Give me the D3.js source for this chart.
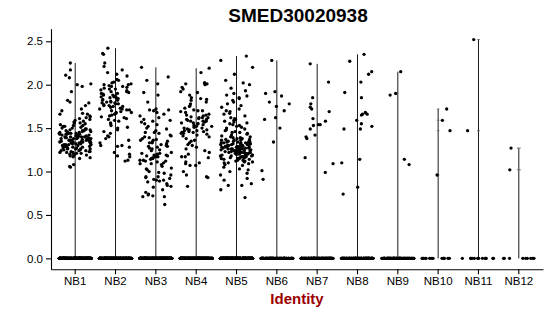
<!DOCTYPE html>
<html><head><meta charset="utf-8">
<script src="https://cdn.jsdelivr.net/npm/d3@7"></script>
<style>body{margin:0;background:#fff}</style></head>
<body><svg id="chart" width="550" height="316"></svg>
<script>
const categories = ["NB1","NB2","NB3","NB4","NB5","NB6","NB7","NB8","NB9","NB10","NB11","NB12"];
const titleText = "SMED30020938";
const xTitleText = "Identity";
const yTicks = [0, 0.5, 1.0, 1.5, 2.0, 2.5];
// number of cells with zero expression per identity
const zeroCounts = [420, 360, 390, 380, 440, 130, 160, 150, 110, 14, 13, 9];
// non-zero expression values per identity
const nb1 = [2.25,2.17,2.11,2.08,2.01,2.00,1.98,1.92,1.82,1.80,1.79,1.76,1.72,1.70,1.67,1.66,1.66,1.64,1.62,1.61,1.60,1.59,1.58,1.57,1.56,1.55,1.54,1.53,1.52,1.52,1.51,1.50,1.50,1.49,1.49,1.48,1.48,1.47,1.47,1.46,1.46,1.45,1.45,1.45,1.44,1.44,1.44,1.43,1.43,1.43,1.42,1.42,1.42,1.41,1.41,1.41,1.40,1.40,1.40,1.40,1.39,1.39,1.39,1.38,1.38,1.38,1.38,1.37,1.37,1.37,1.36,1.36,1.36,1.36,1.35,1.35,1.35,1.34,1.34,1.34,1.34,1.33,1.33,1.33,1.32,1.32,1.32,1.31,1.31,1.31,1.30,1.30,1.30,1.29,1.29,1.29,1.28,1.28,1.28,1.27,1.27,1.26,1.26,1.26,1.25,1.25,1.24,1.24,1.23,1.23,1.22,1.22,1.21,1.21,1.20,1.20,1.19,1.18,1.17,1.16,1.15,1.08,1.06,1.05,1.63,1.56,1.53,1.47,1.43,1.39,1.35,1.31,1.27,1.44,1.38,1.33,1.29,1.24,1.22,1.19,1.23,1.26];
const nb2 = [2.42,2.36,2.35,2.25,2.21,2.17,2.14,2.12,2.10,2.06,2.05,2.03,2.02,2.01,2.00,2.00,1.99,1.98,1.98,1.97,1.96,1.95,1.94,1.93,1.92,1.91,1.90,1.90,1.89,1.88,1.88,1.87,1.86,1.85,1.84,1.83,1.82,1.81,1.80,1.80,1.79,1.78,1.78,1.77,1.76,1.75,1.74,1.73,1.72,1.72,1.71,1.70,1.69,1.68,1.67,1.66,1.65,1.64,1.63,1.62,1.61,1.60,1.59,1.58,1.56,1.55,1.53,1.51,1.50,1.48,1.46,1.44,1.41,1.40,1.38,1.36,1.33,1.30,1.30,1.29,1.28,1.22,1.20,1.18,1.17,1.13,1.12,1.95,1.85,1.75,1.82,1.92,1.68,1.76,1.86,1.79,1.71];
const nb3 = [2.20,2.09,2.05,2.01,1.91,1.88,1.80,1.72,1.71,1.71,1.70,1.68,1.66,1.64,1.62,1.60,1.59,1.58,1.57,1.55,1.54,1.52,1.50,1.49,1.47,1.45,1.44,1.42,1.41,1.40,1.38,1.37,1.36,1.35,1.34,1.33,1.32,1.31,1.30,1.29,1.28,1.27,1.26,1.25,1.24,1.22,1.21,1.21,1.20,1.19,1.19,1.18,1.18,1.17,1.16,1.15,1.14,1.13,1.12,1.11,1.10,1.09,1.08,1.06,1.04,1.03,1.02,1.00,0.99,0.98,0.96,0.94,0.94,0.93,0.92,0.91,0.90,0.90,0.89,0.88,0.86,0.84,0.83,0.82,0.79,0.76,0.74,0.73,0.72,0.71,0.71,0.62,1.15,1.12,1.17,1.36,1.33,1.29,1.39,1.45,1.09,1.13];
const nb4 = [2.19,2.14,2.02,2.02,2.01,2.01,2.00,1.97,1.95,1.92,1.91,1.88,1.85,1.84,1.83,1.82,1.80,1.78,1.76,1.75,1.73,1.71,1.70,1.69,1.68,1.66,1.65,1.64,1.63,1.62,1.62,1.61,1.60,1.60,1.59,1.58,1.58,1.57,1.56,1.56,1.55,1.54,1.53,1.52,1.51,1.50,1.49,1.48,1.47,1.47,1.46,1.45,1.45,1.44,1.43,1.42,1.41,1.40,1.38,1.36,1.35,1.33,1.31,1.30,1.28,1.26,1.24,1.22,1.20,1.17,1.17,1.16,1.11,1.10,1.09,1.07,1.07,1.00,0.96,0.94,0.93,0.83,1.62,1.55,1.50,1.48,1.58,1.65,1.70,1.46,1.52,1.44];
const nb5 = [2.33,2.28,2.20,2.12,2.05,2.02,2.00,1.96,1.93,1.90,1.88,1.87,1.85,1.84,1.82,1.80,1.78,1.76,1.74,1.72,1.70,1.69,1.67,1.66,1.64,1.62,1.61,1.60,1.59,1.58,1.57,1.56,1.55,1.54,1.53,1.52,1.51,1.50,1.49,1.48,1.47,1.46,1.45,1.45,1.44,1.43,1.42,1.41,1.40,1.40,1.39,1.39,1.38,1.38,1.37,1.37,1.36,1.36,1.36,1.35,1.35,1.35,1.34,1.34,1.34,1.33,1.33,1.33,1.33,1.32,1.32,1.32,1.32,1.31,1.31,1.31,1.31,1.30,1.30,1.30,1.30,1.29,1.29,1.29,1.29,1.28,1.28,1.28,1.28,1.28,1.27,1.27,1.27,1.27,1.27,1.26,1.26,1.26,1.26,1.26,1.25,1.25,1.25,1.25,1.25,1.24,1.24,1.24,1.24,1.24,1.23,1.23,1.23,1.23,1.23,1.22,1.22,1.22,1.22,1.22,1.21,1.21,1.21,1.21,1.21,1.20,1.20,1.20,1.20,1.19,1.19,1.19,1.19,1.18,1.18,1.18,1.18,1.17,1.17,1.17,1.16,1.16,1.16,1.15,1.15,1.15,1.14,1.14,1.13,1.13,1.12,1.12,1.11,1.11,1.10,1.10,1.09,1.08,1.07,1.05,1.03,1.02,1.00,0.98,0.96,0.92,0.90,0.86,0.84,0.84,0.79,0.70];
const nb6 = [2.28,1.92,1.90,1.87,1.80,1.78,1.75,1.70,1.62,1.60,1.50,1.34,1.01,0.91];
const nb7 = [2.24,2.03,1.85,1.78,1.74,1.72,1.69,1.61,1.58,1.54,1.53,1.54,1.49,1.42,1.40,1.38,1.16,1.09,0.99];
const nb8 = [2.35,2.27,2.15,2.12,2.03,1.91,1.85,1.68,1.66,1.66,1.65,1.59,1.55,1.52,1.49,1.49,1.14,1.10,0.82,0.74];
const nb9 = [2.15,1.90,1.88,1.14,1.08];
const nb10 = [1.72,1.59,1.47,0.96];
const nb11 = [2.52,1.47];
const nb12 = [1.27,1.02];
const nonZero = [nb1,nb2,nb3,nb4,nb5,nb6,nb7,nb8,nb9,nb10,nb11,nb12];

const svg = d3.select("#chart");
const margin = {left: 51, right: 543, top: 28.6, bottom: 269.3};
const font = "'Liberation Sans', Arial, Helvetica, sans-serif";

const x = d3.scaleBand().domain(categories).range([margin.left, margin.right])
  .paddingInner(0).paddingOuter(0.1);
const ymax = d3.max(nonZero.flat());
const pad = ymax * 0.05;
const y = d3.scaleLinear().domain([-pad, ymax + pad]).range([margin.bottom, margin.top]);

// deterministic jitter generator
function mulberry32(a){return function(){a|=0;a=a+0x6D2B79F5|0;let t=Math.imul(a^a>>>15,1|a);t=t+Math.imul(t^t>>>7,61|t)^t;return((t^t>>>14)>>>0)/4294967296;}}
const rnd = mulberry32(20938);

// violins (degenerate: thin line + small spikes)
const vg = svg.append("g");
categories.forEach((c, i) => {
  const cx = x(c) + x.bandwidth()/2;
  const vals = nonZero[i];
  const vmax = d3.max(vals);
  const half = 0.45 * x.bandwidth();
  vg.append("line").attr("x1", cx).attr("x2", cx).attr("y1", y(0)).attr("y2", y(vmax))
    .attr("stroke", "#1a1a1a").attr("stroke-width", 1);
  const w = half / zeroCounts[i];
  if (w > 0.6) {
    vals.forEach(v => {
      vg.append("line").attr("x1", cx - w).attr("x2", cx + w).attr("y1", y(v)).attr("y2", y(v))
        .attr("stroke", "#666").attr("stroke-width", 0.9);
    });
  }
});

// points
const points = [];
categories.forEach((c, i) => {
  const cx = x(c) + x.bandwidth()/2;
  const all = d3.range(zeroCounts[i]).map(() => 0).concat(nonZero[i]);
  all.forEach(v => {
    points.push({cx: cx + (rnd()*2 - 1) * 0.4 * x.bandwidth(), v});
  });
});
svg.append("g").selectAll("circle").data(points).join("circle")
  .attr("cx", d => d.cx).attr("cy", d => y(d.v)).attr("r", 1.65).attr("fill", "#000");

// axes
const yAxis = svg.append("g").attr("transform", `translate(${margin.left},0)`)
  .call(d3.axisLeft(y).tickValues(yTicks).tickFormat(d3.format(".1f")).tickSize(5).tickSizeOuter(0).tickPadding(3));
const xAxis = svg.append("g").attr("transform", `translate(0,${margin.bottom})`)
  .call(d3.axisBottom(x).tickSize(5).tickSizeOuter(0).tickPadding(3));
[yAxis, xAxis].forEach(g => {
  g.selectAll("path, line").attr("stroke", "#000").attr("stroke-width", 1.1);
  g.selectAll("text").attr("font-family", font).attr("font-size", "11.5px").attr("fill", "#000");
});

svg.append("text").attr("x", 298).attr("y", 22).attr("text-anchor", "middle")
  .attr("font-family", font).attr("font-weight", "bold").attr("font-size", "19px").text(titleText);
svg.append("text").attr("x", 297).attr("y", 304).attr("text-anchor", "middle")
  .attr("font-family", font).attr("font-weight", "bold").attr("font-size", "15px").attr("fill", "#9b0000").text(xTitleText);
</script>
</body></html>
